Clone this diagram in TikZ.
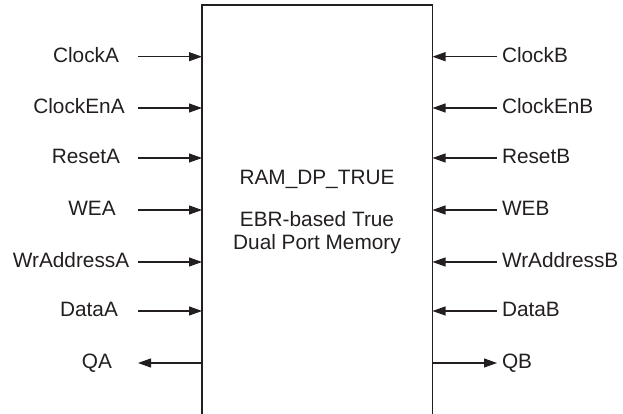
\documentclass[tikz,border=0pt]{standalone}
\usepackage{fontspec}
\setmainfont{Liberation Sans}
\usetikzlibrary{arrows.meta}
\definecolor{ink}{HTML}{231F20}
\begin{document}
\begin{tikzpicture}[x=1pt,y=1pt,
  every node/.style={font=\fontsize{20.8}{23}\selectfont, text=ink, inner sep=0pt, outer sep=0pt},
  sig/.style={draw=ink, line width=1.1pt, arrows={-Triangle[length=13pt,width=9pt,fill=ink]}},
  boxline/.style={draw=ink, line width=1.3pt},
  llab/.style={anchor=base},
  rlab/.style={anchor=base west}]
\useasboundingbox (0,0) rectangle (623,414);
% block (open at the bottom)
\coordinate (bsw) at (202,-2);
\coordinate (bnw) at (202,409);
\coordinate (bne) at (432.5,409);
\coordinate (bse) at (432.5,-2);
\draw[boxline] (bsw) -- (bnw) -- (bne) -- (bse);
\node[anchor=base] (title) at (317,229) {RAM\_DP\_TRUE};
\node[anchor=base] (d1) at (317,187) {EBR-based True};
\node[anchor=base] (d2) at (317,164) {Dual Port Memory};
% left side
\foreach \name/\cx/\yy in {ClockA/86/357.3, ClockEnA/79/306, ResetA/86/256, WEA/92/204, WrAddressA/71/152, DataA/89/103}{
  \node[llab] (l\name) at (\cx,\yy-6) {\name};
  \coordinate (ls\name) at (138,\yy);
  \coordinate (le\name) at (202,\yy);
  \draw[sig] (ls\name) -- (le\name);
}
\node[llab] (lQA) at (97,45) {QA};
\coordinate (lsQA) at (202,51);
\coordinate (leQA) at (138,51);
\draw[sig] (lsQA) -- (leQA);
% right side
\foreach \name/\yy in {ClockB/357.3, ClockEnB/306, ResetB/256, WEB/204, WrAddressB/152, DataB/103}{
  \node[rlab] (r\name) at (502,\yy-6) {\name};
  \coordinate (rs\name) at (497,\yy);
  \coordinate (re\name) at (432.5,\yy);
  \draw[sig] (rs\name) -- (re\name);
}
\node[rlab] (rQB) at (502,45) {QB};
\coordinate (rsQB) at (432.5,51);
\coordinate (reQB) at (497,51);
\draw[sig] (rsQB) -- (reQB);
\end{tikzpicture}
\end{document}
